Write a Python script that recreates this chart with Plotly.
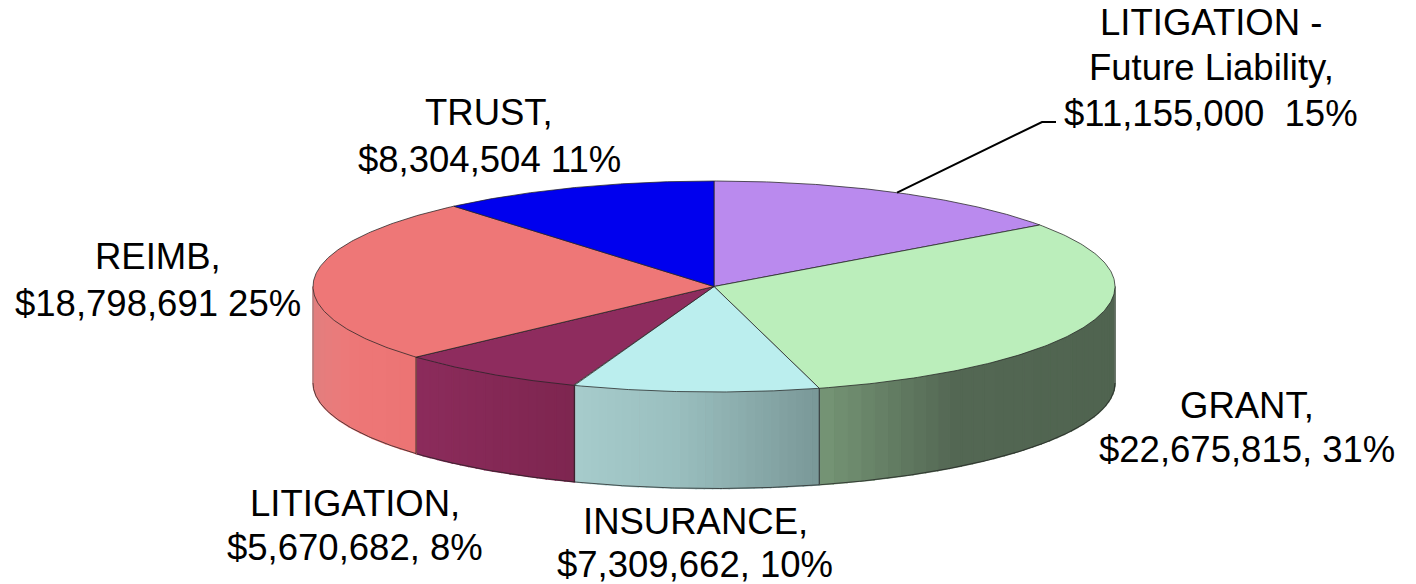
import numpy as np
import plotly.graph_objects as go

W, H = 1416, 584

# Data, clockwise from 12 o'clock
categories = ["LITIGATION - Future Liability", "GRANT", "INSURANCE", "LITIGATION", "REIMB", "TRUST"]
values = [11155000, 22675815, 7309662, 5670682, 18798691, 8304504]
top_colors = ["#BA8AEE", "#BBEEBB", "#BBEEEE", "#8E2C5E", "#EE7777", "#0000EE"]
# side shading stops, left to right (screen x)
side_stops = [
    [(0, "#000000")],
    [(0.0, (118, 150, 118)), (0.45, (84, 104, 84)), (1.0, (80, 100, 80))],
    [(0.0, (167, 204, 204)), (0.4, (155, 192, 192)), (1.0, (122, 152, 152))],
    [(0.0, (140, 44, 92)), (1.0, (126, 38, 80))],
    [(0.0, (226, 128, 128)), (0.35, (238, 120, 120)), (1.0, (236, 116, 116))],
    [(0, "#000000")],
]
label_lines = [
    ("LITIGATION -", 1211, 22), ("Future Liability,", 1211, 67), ("$11,155,000  15%", 1211, 113),
    ("TRUST,", 489, 112), ("$8,304,504 11%", 489, 159),
    ("REIMB,", 158, 256), ("$18,798,691 25%", 158, 303),
    ("GRANT,", 1247, 405), ("$22,675,815, 31%", 1247, 449),
    ("LITIGATION,", 355, 503), ("$5,670,682, 8%", 355, 547),
    ("INSURANCE,", 695, 521), ("$7,309,662, 10%", 695, 564),
]

CX, CY, RX, RY, DEPTH = 714, 286.5, 401, 105.5, 96.5
EDGE = "rgba(35,35,35,0.75)"


def pt(theta):
    return CX + RX * np.sin(theta), CY - RY * np.cos(theta)


def shade(stops, t):
    if len(stops) == 1:
        return "rgb(0,0,0)"
    ts = [s[0] for s in stops]
    rgb = [int(np.interp(t, ts, [s[1][i] for s in stops])) for i in range(3)]
    return f"rgb({rgb[0]},{rgb[1]},{rgb[2]})"


fractions = np.array(values) / sum(values)
edges = np.concatenate([[0], np.cumsum(fractions)]) * 2 * np.pi
fig = go.Figure()

# Side wall, cut into narrow strips for a horizontal gradient
for i in range(len(values)):
    a, b = max(edges[i], np.pi / 2), min(edges[i + 1], 3 * np.pi / 2)
    if a >= b:
        continue
    xa, xb = pt(a)[0], pt(b)[0]
    xl, xr = min(xa, xb), max(xa, xb)
    n = max(6, int((xr - xl) / 8))
    th = np.linspace(a, b, n + 1)
    for j in range(n):
        tt = np.linspace(th[j], th[j + 1], 4)
        x, y = pt(tt)
        mid = pt((th[j] + th[j + 1]) / 2)[0]
        col = shade(side_stops[i], (mid - xl) / (xr - xl))
        fig.add_trace(go.Scatter(
            x=np.concatenate([x, x[::-1], x[:1]]),
            y=np.concatenate([y, y[::-1] + DEPTH, y[:1]]),
            mode="lines", fill="toself", fillcolor=col,
            line=dict(color=col, width=1.5), hoverinfo="skip", showlegend=False))
    # wall outline
    tt = np.linspace(a, b, 100)
    x, y = pt(tt)
    fig.add_trace(go.Scatter(x=x, y=y + DEPTH, mode="lines", line=dict(color=EDGE, width=1),
                             hoverinfo="skip", showlegend=False))
    # vertical seams where a slice boundary is on the visible front
    for e, is_seam in ((edges[i], edges[i] > np.pi / 2), (edges[i + 1], edges[i + 1] < 3 * np.pi / 2)):
        if is_seam:
            px, py = pt(e)
            fig.add_trace(go.Scatter(x=[px, px], y=[py, py + DEPTH], mode="lines",
                                     line=dict(color=EDGE, width=1.2),
                                     hoverinfo="skip", showlegend=False))

# Far-left and far-right silhouette of the wall
for th0 in (np.pi / 2, 3 * np.pi / 2):
    px, py = pt(th0)
    fig.add_trace(go.Scatter(x=[px, px], y=[py, py + DEPTH], mode="lines",
                             line=dict(color="rgba(120,120,120,0.7)", width=1),
                             hoverinfo="skip", showlegend=False))

# Top face
for i, name in enumerate(categories):
    tt = np.linspace(edges[i], edges[i + 1], 160)
    x, y = pt(tt)
    fig.add_trace(go.Scatter(
        x=np.concatenate([[CX], x, [CX]]), y=np.concatenate([[CY], y, [CY]]),
        mode="lines", fill="toself", fillcolor=top_colors[i],
        line=dict(color=EDGE, width=1), name=name,
        text=f"{name}: ${values[i]:,}", hoverinfo="text", hoveron="fills", showlegend=False))

# Leader line from the first slice's mid-angle
sx, sy = pt((edges[0] + edges[1]) / 2)
fig.add_trace(go.Scatter(x=[sx, 1042, 1056], y=[sy, 122, 122], mode="lines",
                         line=dict(color="black", width=2), hoverinfo="skip", showlegend=False))

for text, x, y in label_lines:
    fig.add_annotation(x=x, y=y, text=text, showarrow=False, xanchor="center", yanchor="middle",
                       font=dict(family="Liberation Sans, Arial, sans-serif", size=36.5, color="black"))

fig.update_layout(
    width=W, height=H, margin=dict(l=0, r=0, t=0, b=0), autosize=False,
    paper_bgcolor="white", plot_bgcolor="white", showlegend=False,
    xaxis=dict(range=[0, W], visible=False, fixedrange=True),
    yaxis=dict(range=[H, 0], visible=False, fixedrange=True),
)
fig.write_html("out.html", config={"displayModeBar": False},
               post_script="document.body.style.margin='0';document.documentElement.style.overflow='hidden';")
